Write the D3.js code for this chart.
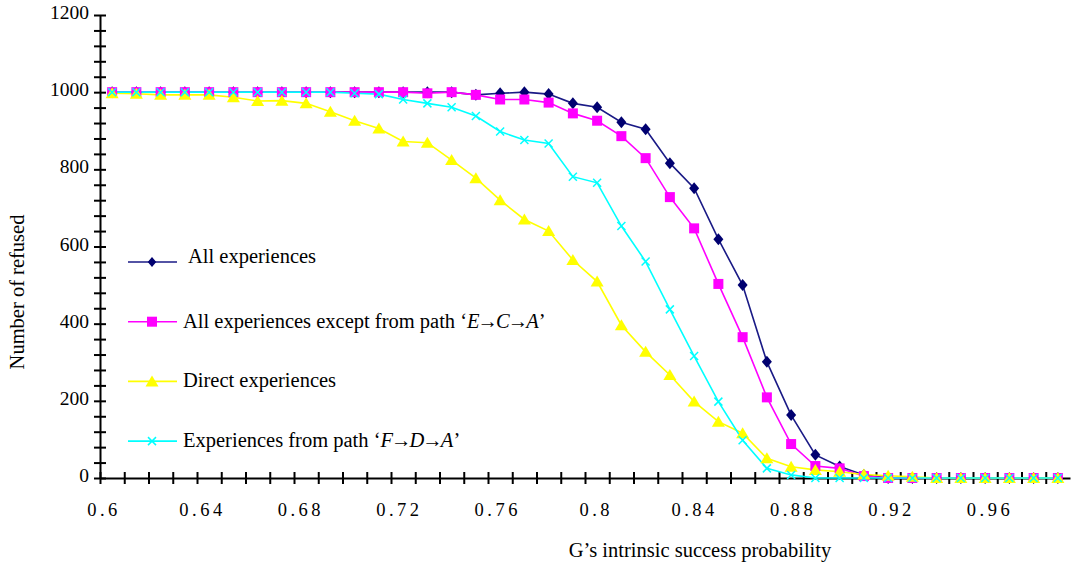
<!DOCTYPE html>
<html>
<head>
<meta charset="utf-8">
<script src="https://cdn.jsdelivr.net/npm/d3@7"></script>
<style>
    body { margin: 0; background: #fff; }
    svg { display: block; font-family: "Liberation Serif", "Times New Roman", serif; }
</style>
</head>
<body>
<svg id="chart-svg" width="1077" height="567"></svg>
<script>
// G's intrinsic success probability, one point every 0.01.
const probabilities = [0.60, 0.61, 0.62, 0.63, 0.64, 0.65, 0.66, 0.67, 0.68, 0.69,
    0.70, 0.71, 0.72, 0.73, 0.74, 0.75, 0.76, 0.77, 0.78, 0.79,
    0.80, 0.81, 0.82, 0.83, 0.84, 0.85, 0.86, 0.87, 0.88, 0.89,
    0.90, 0.91, 0.92, 0.93, 0.94, 0.95, 0.96, 0.97, 0.98, 0.99];

// Number of refused, per series.
const allExperiences = [1000, 1000, 1000, 1000, 1000, 1000, 1000, 1000, 1000, 1000,
    1000, 1000, 1000, 1000, 1000, 993, 997, 1000, 995, 971,
    961, 922, 904, 816, 751, 619, 500, 301, 163, 60,
    30, 8, 0, 0, 0, 0, 0, 0, 0, 0];
const exceptECA = [1000, 1000, 1000, 1000, 1000, 1000, 1000, 1000, 1000, 1000,
    1000, 1000, 1000, 997, 1000, 993, 981, 981, 973, 945,
    926, 886, 829, 728, 647, 503, 365, 209, 88, 31,
    25, 5, 0, 0, 0, 0, 0, 0, 0, 0];
const directExperiences = [997, 996, 993, 993, 993, 987, 977, 978, 971, 949,
    926, 906, 872, 869, 824, 777, 720, 670, 640, 565,
    509, 396, 327, 267, 198, 146, 116, 51, 29, 21,
    16, 9, 6, 3, 0, 0, 0, 0, 0, 0];
const pathFDA = [1000, 1000, 1000, 1000, 1000, 1000, 1000, 1000, 1000, 1000,
    997, 995, 981, 971, 961, 938, 898, 876, 867, 781,
    765, 653, 561, 437, 316, 198, 98, 25, 8, 0,
    0, 0, 0, 0, 0, 0, 0, 0, 0, 0];

// Legend text; path letters are drawn in italics.
const seriesNames = ['All experiences', 'All experiences except from path ', 'Direct experiences', 'Experiences from path '];
const seriesPaths = ['', 'E→C→A', '', 'F→D→A'];

// Tick labels.
const yTickLabels = [0, 200, 400, 600, 800, 1000, 1200];
const xTickLabels = ['0.6', '0.64', '0.68', '0.72', '0.76', '0.8', '0.84', '0.88', '0.92', '0.96'];

let svg = d3.select('#chart-svg');

let series = [
    {values: allExperiences, color: '#000070', line: '#1a1a86', marker: 'diamond'},
    {values: exceptECA, color: '#ff00ff', line: '#ff00ff', marker: 'square'},
    {values: directExperiences, color: '#ffff00', line: '#ffff00', marker: 'triangle'},
    {values: pathFDA, color: '#00ffff', line: '#00ffff', marker: 'cross'}
];

// Scales: points sit between the x tick marks.
let xScale = d3.scaleLinear().domain([0.595, 0.995]).range([100, 1070]);
let xLabelScale = d3.scaleLinear().domain([0.6, 0.96]).range([102, 988]);
let yScale = d3.scaleLinear().domain([0, 1200]).range([478, 15]);

// Draws a marker shape at the origin of group g.
function drawMarker(g, type, color, big) {
    let k = big ? 1 : 0.85;
    if (type === 'diamond') {
        g.append('path')
            .attr('d', 'M0,' + (-6 * k) + 'L' + (5 * k) + ',0L0,' + (6 * k) + 'L' + (-5 * k) + ',0Z')
            .attr('fill', color);
    } else if (type === 'square') {
        g.append('rect')
            .attr('x', -5).attr('y', -5)
            .attr('width', 10).attr('height', 10)
            .attr('fill', color);
    } else if (type === 'triangle') {
        g.append('path')
            .attr('d', 'M0,-6L6.5,5L-6.5,5Z')
            .attr('fill', color);
    } else {
        g.append('path')
            .attr('d', 'M-4,-4L4,4M4,-4L-4,4')
            .attr('stroke', color)
            .attr('stroke-width', 1.5)
            .attr('fill', 'none');
    }
}

// Axes, with tick marks crossing the axis line.
let yAxis = d3.axisLeft(yScale)
    .tickValues(d3.range(0, 1201, 40))
    .tickSize(6)
    .tickSizeOuter(0)
    .tickFormat('');
let gY = svg.append('g')
    .attr('transform', 'translate(100,0)')
    .call(yAxis);
gY.selectAll('.tick line').attr('x1', 6).attr('stroke-width', 2);
gY.select('.domain').attr('stroke-width', 2);

let xAxis = d3.axisBottom(xScale)
    .tickValues(d3.range(40).map(k => 0.595 + 0.01 * k))
    .tickSize(6)
    .tickSizeOuter(0)
    .tickFormat('');
let gX = svg.append('g')
    .attr('transform', 'translate(0,478)')
    .call(xAxis);
gX.selectAll('.tick line').attr('y1', -6).attr('stroke-width', 2);
gX.select('.domain').attr('stroke-width', 2);

// Tick labels.
svg.append('g').selectAll('text')
    .data(yTickLabels)
    .join('text')
    .attr('x', 89)
    .attr('y', d => yScale(d) + 4)
    .attr('text-anchor', 'end')
    .attr('font-size', 19.5)
    .text(d => d);

svg.append('g').selectAll('text')
    .data(xTickLabels)
    .join('text')
    .attr('x', d => xLabelScale(+d) + 2)
    .attr('y', 516)
    .attr('text-anchor', 'middle')
    .attr('font-size', 18.5)
    .attr('letter-spacing', 3.5)
    .text(d => d);

// Axis titles.
svg.append('text')
    .attr('x', 700)
    .attr('y', 557)
    .attr('text-anchor', 'middle')
    .attr('font-size', 20.5)
    .text('G’s intrinsic success probability');

svg.append('text')
    .attr('transform', 'translate(24,292) rotate(-90)')
    .attr('text-anchor', 'middle')
    .attr('font-size', 20.5)
    .text('Number of refused');

// Lines and markers, drawn in legend order.
let line = d3.line()
    .x((d, i) => xScale(probabilities[i]))
    .y(d => yScale(d));

let gSeries = svg.append('g').attr('id', 'g-series');
series.forEach(s => {
    gSeries.append('path')
        .attr('d', line(s.values))
        .attr('fill', 'none')
        .attr('stroke', s.line)
        .attr('stroke-width', 1.6);
});
series.forEach(s => {
    s.values.forEach((v, i) => {
        let g = gSeries.append('g')
            .attr('transform', 'translate(' + xScale(probabilities[i]) + ',' + yScale(v) + ')');
        drawMarker(g, s.marker, s.color, true);
    });
});

// Legend inside the plot.
let gLegend = svg.append('g').attr('id', 'g-legend');
series.forEach((s, i) => {
    let y = 262 + i * 59.7;
    gLegend.append('line')
        .attr('x1', 128).attr('x2', 177)
        .attr('y1', y).attr('y2', y)
        .attr('stroke', s.line)
        .attr('stroke-width', 1.6);
    let g = gLegend.append('g').attr('transform', 'translate(152,' + y + ')');
    drawMarker(g, s.marker, s.color, false);

    let text = gLegend.append('text')
        .attr('x', i === 0 ? 188 : 183)
        .attr('y', y + (i === 0 ? 1 : 6))
        .attr('font-size', 20.5)
        .text(seriesNames[i]);
    if (seriesPaths[i]) {
        text.append('tspan').text('‘');
        seriesPaths[i].split('').forEach(c => {
            text.append('tspan')
                .attr('font-style', c === '→' ? 'normal' : 'italic')
                .attr('dx', c === '→' ? -2 : (c === seriesPaths[i][0] ? 0 : -2))
                .text(c);
        });
        text.append('tspan').text('’');
    }
});
</script>
</body>
</html>
